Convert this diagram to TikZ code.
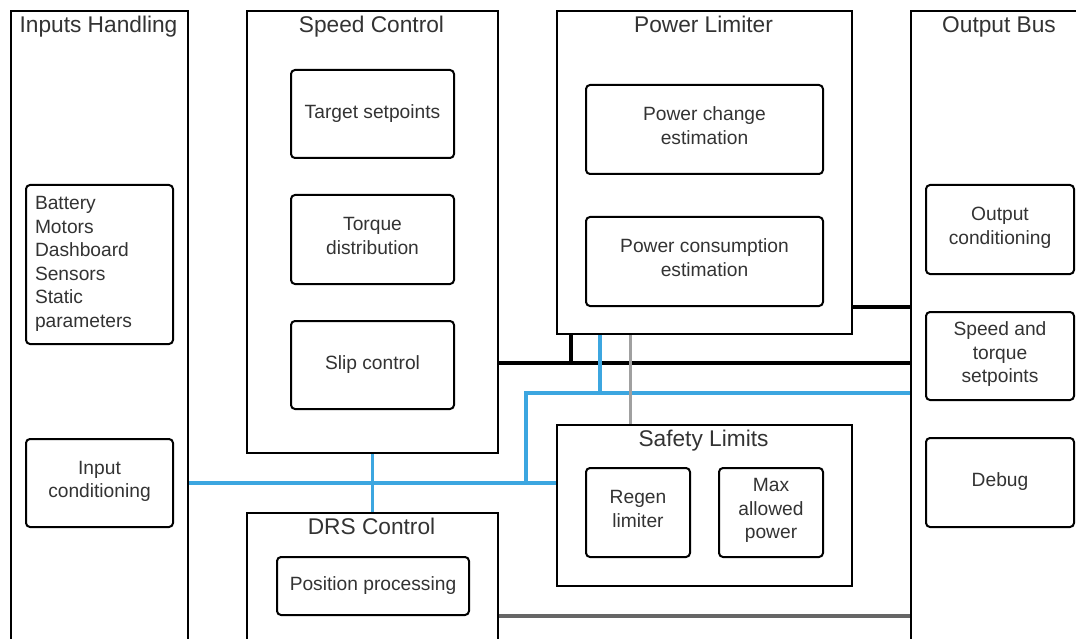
\documentclass[tikz,border=0pt]{standalone}
\usepackage{fontspec}
\setmainfont{Liberation Sans}
\usetikzlibrary{calc}
\definecolor{txt}{HTML}{333333}
\definecolor{busblue}{HTML}{3CA6E0}
\definecolor{lightgray}{HTML}{A0A0A0}
\definecolor{darkgray}{HTML}{666666}
% line strut so that every block centres its lines the same way
\newcommand{\linestrut}{\rule[-7.6pt]{0pt}{23.5pt}}
\tikzset{
  container/.style={draw=black, line width=2pt, rectangle, anchor=north west, inner sep=0pt},
  block/.style={draw=black, line width=2pt, rectangle, rounded corners=4pt, anchor=north west,
    inner sep=0pt, text=txt, align=center, font=\fontsize{19.2}{23.5}\selectfont,
    execute at begin node=\linestrut, execute at end node=\linestrut},
  heading/.style={anchor=base, text=txt, inner sep=0pt, font=\fontsize{22.7}{27}\selectfont},
  wireblack/.style={draw=black, line width=3.8pt},
  wireblue/.style={draw=busblue, line width=3.5pt},
  wiregray/.style={draw=lightgray, line width=3pt},
  wiredark/.style={draw=darkgray, line width=3.5pt}
}
\begin{document}
\begin{tikzpicture}[x=1pt, y=-1pt]
\clip (0,0) rectangle (1076,639);
\fill[white] (0,0) rectangle (1076,639);

% module frames
\node[container, minimum width=177pt, minimum height=700pt] (inputs) at (10,10) {};
\node[container, minimum width=251pt, minimum height=442pt] (speed) at (246,10) {};
\node[container, minimum width=295pt, minimum height=323pt] (power) at (556,10) {};
\node[container, minimum width=300pt, minimum height=700pt] (bus) at (910,10) {};
\node[container, minimum width=295pt, minimum height=161pt] (safety) at (556,424) {};
\node[container, minimum width=251pt, minimum height=200pt] (drs) at (246,512) {};

% module headings
\node[heading] (tinputs) at (98.5,33) {Inputs Handling};
\node[heading] (tspeed) at (371.5,33) {Speed Control};
\node[heading] (tpower) at (703.5,33) {Power Limiter};
\node[heading] (tbus) at (999,33) {Output Bus};
\node[heading] (tsafety) at (703.5,446) {Safety Limits};
\node[heading] (tdrs) at (371.5,534) {DRS Control};

% inner blocks
\node[block, minimum width=147pt, minimum height=159pt, text width=129pt, align=left] (sources) at (25,184)
  {Battery\\Motors\\Dashboard\\Sensors\\Static\\parameters};
\node[block, minimum width=147pt, minimum height=88pt] (inc) at (25,438) {Input\\conditioning};
\node[block, minimum width=163pt, minimum height=88pt] (target) at (290,69) {Target setpoints};
\node[block, minimum width=163pt, minimum height=89pt] (torque) at (290,194) {Torque\\distribution};
\node[block, minimum width=163pt, minimum height=88pt] (slip) at (290,320) {Slip control};
\node[block, minimum width=237pt, minimum height=89pt] (pchange) at (585,84) {Power change\\estimation};
\node[block, minimum width=237pt, minimum height=89pt] (pcons) at (585,216) {Power consumption\\estimation};
\node[block, minimum width=148pt, minimum height=89pt] (outcond) at (925,184) {Output\\conditioning};
\node[block, minimum width=148pt, minimum height=88pt] (stsp) at (925,311) {Speed and\\torque\\setpoints};
\node[block, minimum width=148pt, minimum height=89pt] (debug) at (925,437) {Debug};
\node[block, minimum width=104pt, minimum height=89pt] (regen) at (585,467) {Regen\\limiter};
\node[block, minimum width=104pt, minimum height=89pt] (maxp) at (718,467) {Max\\allowed\\power};
\node[block, minimum width=192pt, minimum height=58pt] (pos) at (276,556) {Position processing};

% junction points on the bus lines
\coordinate (jblack) at (571,363);
\coordinate (jblue) at (600,393);
\coordinate (jbend) at (526,393);
\coordinate (jgray) at (630,400);

% black links
\draw[wireblack] (pcons.south -| power.east) -- (pcons.south -| bus.west);
\draw[wireblack] (jblack -| speed.east) -- (jblack -| bus.west);
\draw[wireblack] (power.south -| jblack) -- (jblack);

% blue links
\draw[wireblue] (inc.east -| inputs.east) -- (inc.east -| safety.west);
\draw[wireblue] (speed.south) -- (drs.north);
\draw[wireblue] (inc.east -| jbend) -- (jbend) -- (jbend -| bus.west);
\draw[wireblue] (power.south -| jblue) -- (jblue);

% gray links
\draw[wiregray] (power.south -| jgray) -- (safety.north -| jgray);
\draw[wiredark] (pos.south -| drs.east) -- (pos.south -| bus.west);
\end{tikzpicture}
\end{document}
